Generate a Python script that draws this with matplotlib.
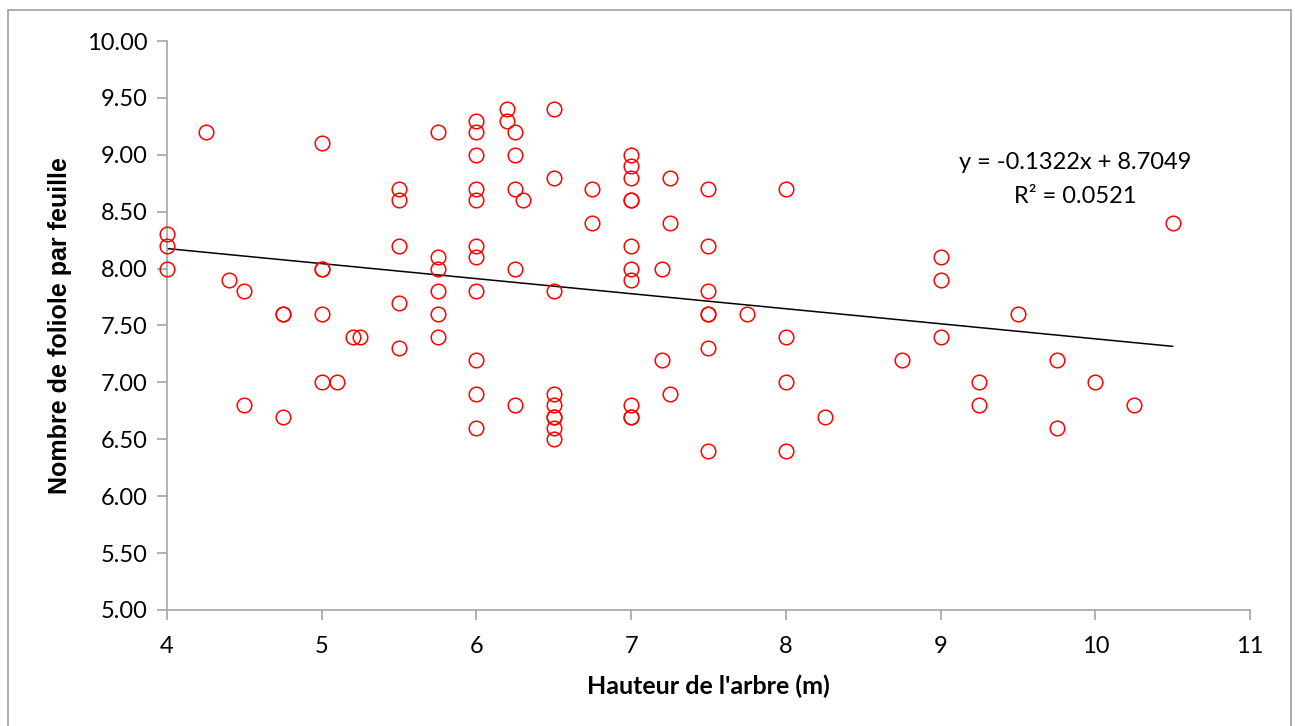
import numpy as np
import matplotlib
matplotlib.use("Agg")
import matplotlib.pyplot as plt
from matplotlib.patches import Rectangle

plt.rcParams["font.family"] = ["Lato", "DejaVu Sans"]

# tree height (m) and leaflets per leaf, read column by column
hauteur = (
    [4, 4, 4, 4.25, 4.4, 4.5, 4.5, 4.75, 4.75, 4.75]
    + [5, 5, 5, 5, 5, 5.1, 5.2, 5.25]
    + [5.5] * 5 + [5.75] * 6 + [6] * 11 + [6.2, 6.2]
    + [6.25] * 5 + [6.3] + [6.5] * 9 + [6.75] * 2 + [7] * 11
    + [7.2, 7.2] + [7.25] * 3 + [7.5] * 7 + [7.75] + [8] * 4
    + [8.25, 8.75] + [9] * 3 + [9.25, 9.25, 9.5, 9.75, 9.75, 10, 10.25, 10.5]
)
folioles = (
    [8.3, 8.2, 8.0, 9.2, 7.9, 7.8, 6.8, 7.6, 7.6, 6.7]
    + [9.1, 8.0, 8.0, 7.6, 7.0, 7.0, 7.4, 7.4]
    + [8.7, 8.6, 8.2, 7.7, 7.3]
    + [9.2, 8.1, 8.0, 7.8, 7.6, 7.4]
    + [9.3, 9.2, 9.0, 8.7, 8.6, 8.2, 8.1, 7.8, 7.2, 6.9, 6.6]
    + [9.4, 9.3]
    + [9.2, 9.0, 8.7, 8.0, 6.8]
    + [8.6]
    + [9.4, 8.8, 7.8, 6.9, 6.8, 6.7, 6.7, 6.6, 6.5]
    + [8.7, 8.4]
    + [9.0, 8.9, 8.8, 8.6, 8.6, 8.2, 8.0, 7.9, 6.8, 6.7, 6.7]
    + [8.0, 7.2]
    + [8.8, 8.4, 6.9]
    + [8.7, 8.2, 7.8, 7.6, 7.6, 7.3, 6.4]
    + [7.6]
    + [8.7, 7.4, 7.0, 6.4]
    + [6.7, 7.2]
    + [8.1, 7.9, 7.4]
    + [7.0, 6.8, 7.6, 7.2, 6.6, 7.0, 6.8, 8.4]
)

# linear trend shown on the chart
pente = -0.1322
origine = 8.7049
r2 = 0.0521

x = np.array(hauteur)
y = np.array(folioles)

fig = plt.figure(figsize=(12.95, 7.26), dpi=100)
ax = fig.add_axes([167 / 1295, 1 - 610 / 726, (1250 - 167) / 1295, (610 - 41) / 726])

ax.plot(x, y, "o", mfc="none", mec="#ff0000", ms=10.5, mew=1.1, linestyle="none", clip_on=False, zorder=3)

xl = np.array([x.min(), x.max()])
ax.plot(xl, pente * xl + origine, color="black", lw=1.1)

ax.set_xlim(4, 11)
ax.set_ylim(5, 10)
ax.set_xticks(range(4, 12))
ax.set_yticks(np.arange(5, 10.01, 0.5))
ax.set_yticklabels([f"{v:.2f}" for v in np.arange(5, 10.01, 0.5)])

gris = "#a6a6a6"
for s in ["top", "right"]:
    ax.spines[s].set_visible(False)
for s in ["left", "bottom"]:
    ax.spines[s].set_color(gris)
    ax.spines[s].set_linewidth(1.2)
ax.tick_params(axis="both", colors=gris, length=7, width=1.2, labelcolor="black", labelsize=17)
ax.tick_params(axis="x", pad=12)
ax.tick_params(axis="y", pad=7)

ax.set_xlabel("Hauteur de l'arbre (m)", fontsize=18, fontweight="bold", labelpad=12)
ax.set_ylabel("Nombre de foliole par feuille", fontsize=18, fontweight="bold", labelpad=11,
              family=["Liberation Sans", "DejaVu Sans"])

ax.text(9.87, 8.93, f"y = {pente:.4f}x + {origine:.4f}", fontsize=17, ha="center", va="center")
ax.text(9.87, 8.63, f"R² = {r2:.4f}", fontsize=17, ha="center", va="center")

fig.patches.append(Rectangle((8 / 1295, -0.01), (1291 - 8) / 1295, 1.01 - 10 / 726,
                             transform=fig.transFigure, fill=False, edgecolor=gris, lw=1.3))

fig.savefig("out.png", dpi=100)
